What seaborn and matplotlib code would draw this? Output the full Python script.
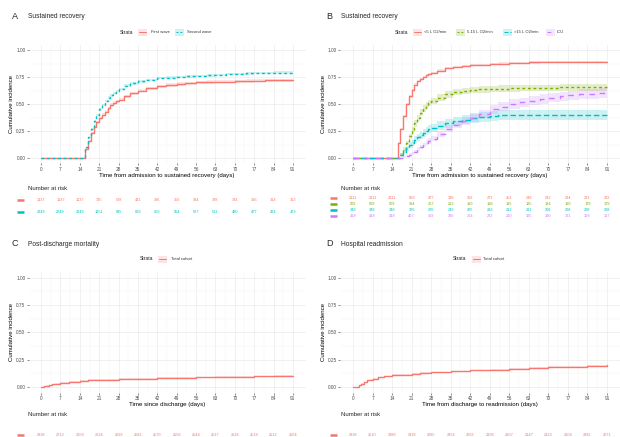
import numpy as np
import pandas as pd
import matplotlib.pyplot as plt
import seaborn as sns
from matplotlib.patches import Rectangle
from matplotlib.transforms import blended_transform_factory

# ---------------- data ----------------
risk_days = list(range(0, 92, 7))

# A: sustained recovery by wave
a_days = [0, 16, 17, 18, 19, 20, 21, 22, 23, 24, 25, 26, 27, 28, 30, 32, 35, 38, 42, 45, 49, 52,
          56, 60, 63, 67, 70, 74, 77, 81, 84, 88, 91]
a_first = [0, 0.08, 0.16, 0.23, 0.29, 0.33, 0.37, 0.40, 0.43, 0.46, 0.49, 0.51, 0.525, 0.54, 0.57,
           0.60, 0.625, 0.645, 0.665, 0.675, 0.685, 0.693, 0.70, 0.703, 0.705, 0.708, 0.71, 0.713,
           0.715, 0.718, 0.72, 0.72, 0.72]
a_second = [0, 0.10, 0.19, 0.27, 0.34, 0.40, 0.45, 0.49, 0.53, 0.56, 0.58, 0.60, 0.62, 0.64, 0.67,
            0.69, 0.71, 0.725, 0.74, 0.745, 0.75, 0.755, 0.76, 0.765, 0.77, 0.775, 0.78, 0.783,
            0.785, 0.788, 0.79, 0.79, 0.79]
a_first_ci = [0, 0.008, 0.010, 0.012, 0.013, 0.014] + [0.015] * 27
a_second_ci = [0, 0.006, 0.008, 0.009, 0.010, 0.010] + [0.011] * 27
a_labels = ["First wave", "Second wave"]
a_risk_first = [1137, 1137, 1137, 745, 528, 431, 386, 356, 334, 328, 324, 316, 314, 313]
a_risk_second = [2249, 2249, 2249, 1251, 835, 676, 603, 554, 527, 511, 490, 477, 474, 473]

# B: sustained recovery by oxygen need
b_days = [0, 16, 17, 18, 19, 20, 21, 22, 23, 24, 25, 26, 27, 28, 30, 33, 36, 39, 42, 45, 49, 52,
          56, 60, 63, 67, 70, 74, 77, 81, 84, 88, 91]
b_low = [0, 0.14, 0.27, 0.39, 0.50, 0.57, 0.63, 0.68, 0.71, 0.73, 0.75, 0.765, 0.78, 0.79, 0.81,
         0.83, 0.845, 0.853, 0.86, 0.865, 0.87, 0.875, 0.88, 0.883, 0.885, 0.888, 0.89, 0.89,
         0.89, 0.89, 0.89, 0.89, 0.89]
b_mid = [0, 0, 0.03, 0.08, 0.14, 0.20, 0.26, 0.32, 0.37, 0.42, 0.46, 0.49, 0.51, 0.53, 0.56,
         0.59, 0.61, 0.62, 0.63, 0.635, 0.64, 0.643, 0.645, 0.648, 0.65, 0.65, 0.65, 0.653,
         0.655, 0.655, 0.655, 0.655, 0.655]
b_high = [0, 0, 0.03, 0.06, 0.09, 0.12, 0.14, 0.17, 0.19, 0.21, 0.23, 0.25, 0.265, 0.28, 0.30,
          0.32, 0.34, 0.355, 0.37, 0.38, 0.39, 0.395, 0.40, 0.40, 0.40, 0.40, 0.40, 0.40, 0.40,
          0.40, 0.40, 0.40, 0.40]
b_icu = [0, 0, 0, 0.01, 0.02, 0.03, 0.04, 0.06, 0.08, 0.10, 0.12, 0.14, 0.16, 0.18, 0.22,
         0.27, 0.31, 0.34, 0.37, 0.41, 0.45, 0.475, 0.50, 0.515, 0.53, 0.545, 0.56, 0.57, 0.58,
         0.59, 0.595, 0.60, 0.60]
b_low_ci = [0, 0.006, 0.008] + [0.010] * 30
b_mid_ci = [0, 0, 0.012, 0.018, 0.022, 0.025, 0.028] + [0.030] * 26
b_high_ci = [0, 0, 0.012, 0.018, 0.022, 0.025, 0.028, 0.030, 0.032, 0.034, 0.035, 0.036, 0.037,
             0.038, 0.040, 0.040, 0.042, 0.042, 0.043, 0.044, 0.044, 0.045] + [0.045] * 11
b_icu_ci = [0, 0, 0, 0.006, 0.010, 0.012, 0.014, 0.016, 0.018, 0.020, 0.022, 0.024, 0.026,
            0.027, 0.030, 0.033, 0.035, 0.037, 0.038, 0.039, 0.040, 0.041, 0.042, 0.043, 0.043,
            0.044, 0.044, 0.045, 0.045, 0.045, 0.045, 0.045, 0.045]
b_labels = ["<5 L O2/min", "5-15 L O2/min", ">15 L O2/min", "ICU"]
b_risk_low = [2111, 2111, 2111, 659, 477, 348, 302, 273, 253, 248, 242, 234, 233, 232]
b_risk_mid = [509, 509, 509, 394, 267, 213, 199, 188, 185, 185, 184, 180, 179, 179]
b_risk_high = [348, 348, 348, 326, 270, 246, 225, 216, 212, 211, 208, 208, 208, 208]
b_risk_icu = [418, 418, 418, 407, 359, 330, 264, 233, 210, 195, 190, 171, 168, 167]

# C: post-discharge mortality
c_days = [0, 1, 2, 3, 4, 5, 7, 10, 14, 17, 21, 28, 35, 42, 49, 56, 63, 70, 77, 84, 91]
c_inc = [0, 0.005, 0.012, 0.018, 0.024, 0.029, 0.037, 0.047, 0.058, 0.063, 0.068, 0.074, 0.078,
         0.082, 0.086, 0.090, 0.093, 0.096, 0.099, 0.102, 0.105]
c_ci = [0, 0.002, 0.003, 0.004, 0.004, 0.005, 0.005, 0.005, 0.006] + [0.006] * 12
c_risk = [2838, 2713, 2658, 2624, 2599, 2582, 2570, 2556, 2544, 2537, 2528, 2518, 2512, 2504]

# D: hospital readmission
d_days = [0, 2, 3, 4, 5, 6, 7, 9, 11, 14, 17, 21, 24, 28, 35, 42, 49, 56, 63, 70, 77, 84, 91]
d_inc = [0, 0.02, 0.03, 0.045, 0.06, 0.068, 0.075, 0.088, 0.098, 0.108, 0.114, 0.12, 0.126,
         0.133, 0.143, 0.152, 0.16, 0.167, 0.174, 0.18, 0.187, 0.193, 0.199]
d_ci = [0, 0.003, 0.004, 0.005, 0.005, 0.006, 0.006, 0.006, 0.007, 0.007] + [0.008] * 13
d_risk = [2838, 2510, 2389, 2339, 2285, 2254, 2222, 2196, 2167, 2147, 2123, 2104, 2082, 2071]

total_label = "Total cohort"

# ---------------- style ----------------
sns.set_theme(style="white")
plt.rcParams['font.family'] = ['Liberation Sans', 'DejaVu Sans']

RED, GREEN, CYAN, PURPLE = "#F8766D", "#7CAE00", "#00BFC4", "#C77CFF"
DASHES = ['', (2, 2), (4, 2), (4, 4)]

W, H = 620, 437
fig = plt.figure(figsize=(W / 100, H / 100), dpi=100)
over = fig.add_axes([0, 0, 1, 1])
over.set_xlim(0, W)
over.set_ylim(H, 0)
over.axis('off')


def px_axes(l, t, r, b):
    return fig.add_axes([l / W, 1 - b / H, (r - l) / W, (b - t) / H])


def style_axes(ax, xlabel):
    ax.set_xlim(-4.55, 95.55)
    ax.set_ylim(-0.05, 1.05)
    ax.set_xticks(risk_days)
    ax.set_xticks(np.arange(3.5, 92, 7), minor=True)
    ax.set_yticks([0, 0.25, 0.5, 0.75, 1.0])
    ax.set_yticks([0.125, 0.375, 0.625, 0.875], minor=True)
    ax.set_yticklabels(["0.00", "0.25", "0.50", "0.75", "1.00"])
    ax.grid(which='major', color='#EBEBEB', lw=0.5)
    ax.grid(which='minor', color='#F3F3F3', lw=0.3)
    for s in ax.spines.values():
        s.set_visible(False)
    ax.tick_params(axis='both', which='major', labelsize=3.4, labelcolor='#4D4D4D',
                   color='#333333', length=1.3, width=0.4, pad=1, bottom=True, left=True)
    ax.tick_params(which='minor', length=0)
    ax.set_xlabel(xlabel, fontsize=4.4, labelpad=1.2, color='black')
    ax.set_ylabel("Cumulative incidence", fontsize=4.4, labelpad=1.5, color='black')
    ax.set_facecolor('white')


def draw_curves(ax, days, series, cis, labels, colors):
    frames = []
    for y, lab in zip(series, labels):
        frames.append(pd.DataFrame({'day': days, 'inc': y, 'Strata': lab}))
    df = pd.concat(frames, ignore_index=True)
    for y, ci, c in zip(series, cis, colors):
        y = np.array(y)
        ci = np.array(ci)
        ax.fill_between(days, y - ci, y + ci, step='post', color=c, alpha=0.2, lw=0)
    sns.lineplot(data=df, x='day', y='inc', hue='Strata', style='Strata',
                 palette=colors, dashes=DASHES[:len(labels)], estimator=None,
                 drawstyle='steps-post', lw=1.0, legend=False, ax=ax)


def draw_title(x_letter, x_text, y, letter, text):
    over.text(x_letter, y, letter, fontsize=6.5, ha='left', va='center')
    over.text(x_text, y, text, fontsize=4.8, ha='left', va='center')


def draw_legend(y, strata_x, items):
    over.text(strata_x, y, "Strata", fontsize=3.6, ha='left', va='center')
    for key_x, lab_x, c, dash, lab in items:
        over.add_patch(Rectangle((key_x, y - 3.5), 8.5, 7, color=c, alpha=0.2, lw=0))
        ln, = over.plot([key_x + 0.5, key_x + 8], [y, y], color=c, lw=0.7)
        if dash:
            ln.set_dashes(dash)
        over.text(lab_x, y, lab, fontsize=3.0, ha='left', va='center', color='#333333')


def draw_risk(ax, head_x, head_y, key_x, rows, risks, colors):
    over.text(head_x, head_y, "Number at risk", fontsize=4.3, ha='left', va='center')
    trans = blended_transform_factory(ax.transData, over.transData)
    for ry, vals, c in zip(rows, risks, colors):
        over.plot([key_x, key_x + 7], [ry, ry], color=c, lw=1.8, solid_capstyle='butt')
        for d, v in zip(risk_days, vals):
            over.text(d, ry, str(v), transform=trans, fontsize=2.8, ha='center',
                      va='center', color=c)


# ---------------- panel A ----------------
axA = px_axes(28.5, 44.6, 305.5, 163.4)
draw_curves(axA, a_days, [a_first, a_second], [a_first_ci, a_second_ci], a_labels, [RED, CYAN])
style_axes(axA, "Time from admission to sustained recovery (days)")
draw_title(12, 28, 16.5, "A", "Sustained recovery")
draw_legend(32, 120, [(138, 151, RED, None, a_labels[0]),
                      (175, 187, CYAN, (2, 2), a_labels[1])])
draw_risk(axA, 28, 188, 17, [200, 212], [a_risk_first, a_risk_second], [RED, CYAN])

# ---------------- panel B ----------------
axB = px_axes(340.3, 44.6, 619.7, 163.4)
draw_curves(axB, b_days, [b_low, b_mid, b_high, b_icu],
            [b_low_ci, b_mid_ci, b_high_ci, b_icu_ci], b_labels, [RED, GREEN, CYAN, PURPLE])
style_axes(axB, "Time from admission to sustained recovery (days)")
draw_title(326, 341, 16.5, "B", "Sustained recovery")
draw_legend(32, 395, [(413, 424, RED, None, b_labels[0]),
                      (456, 467, GREEN, (2, 2), b_labels[1]),
                      (503, 514, CYAN, (4, 2), b_labels[2]),
                      (546, 557, PURPLE, (4, 4), b_labels[3])])
draw_risk(axB, 341, 188, 330, [197.7, 203.7, 209.7, 215.7],
          [b_risk_low, b_risk_mid, b_risk_high, b_risk_icu], [RED, GREEN, CYAN, PURPLE])

# ---------------- panel C ----------------
axC = px_axes(28.5, 272.2, 305.5, 392.5)
draw_curves(axC, c_days, [c_inc], [c_ci], [total_label], [RED])
style_axes(axC, "Time since discharge (days)")
draw_title(12, 28, 244, "C", "Post-discharge mortality")
draw_legend(259, 140, [(158, 171, RED, None, total_label)])
draw_risk(axC, 28, 415, 17, [435], [c_risk], [RED])

# ---------------- panel D ----------------
axD = px_axes(340.3, 272.2, 619.7, 392.5)
draw_curves(axD, d_days, [d_inc], [d_ci], [total_label], [RED])
style_axes(axD, "Time from discharge to readmission (days)")
draw_title(326, 341, 244, "D", "Hospital readmission")
draw_legend(259, 453, [(472, 483, RED, None, total_label)])
draw_risk(axD, 341, 415, 330, [435], [d_risk], [RED])

fig.savefig("out.png", dpi=100, facecolor='white')
